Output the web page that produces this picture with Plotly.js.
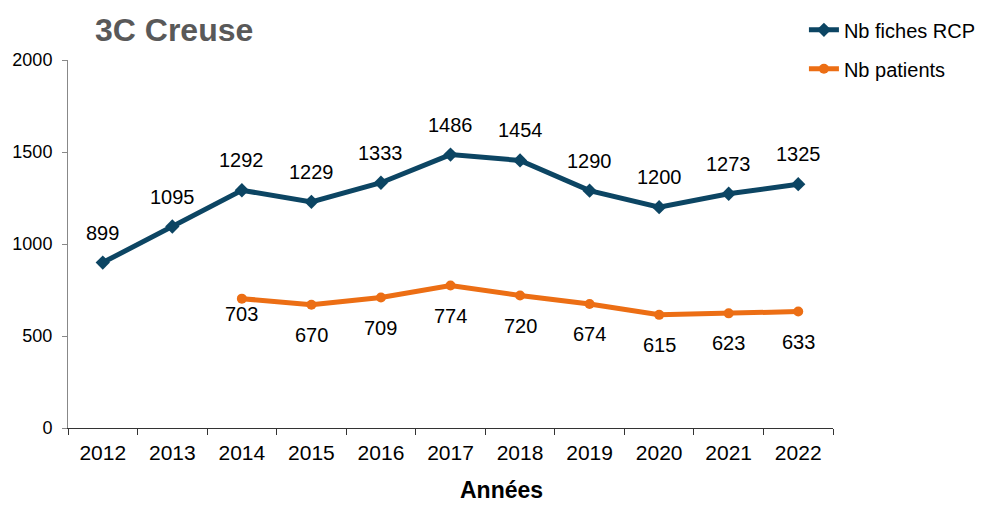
<!DOCTYPE html>
<html>
<head>
<meta charset="utf-8">
<script src="https://cdn.plot.ly/plotly-3.0.1.min.js"></script>
<style>html,body{margin:0;padding:0;background:#fff;}#chart{width:984px;height:505px;}</style>
</head>
<body>
<div id="chart"></div>
<script>
const years = ['2012','2013','2014','2015','2016','2017','2018','2019','2020','2021','2022'];
const fichesRCP = [899, 1095, 1292, 1229, 1333, 1486, 1454, 1290, 1200, 1273, 1325];
const patients = [null, null, 703, 670, 709, 774, 720, 674, 615, 623, 633];
const seriesNames = ['Nb fiches RCP', 'Nb patients'];
const yTicks = [0, 500, 1000, 1500, 2000];
const xTitle = 'Années';

const BLUE = '#0c4563';
const ORANGE = '#ec6e14';
const FONT = 'Liberation Sans, Arial, Helvetica, sans-serif';

const traces = [
  {
    x: years, y: fichesRCP, name: seriesNames[0], type: 'scatter', mode: 'lines+markers',
    line: {color: BLUE, width: 5}, marker: {symbol: 'diamond', size: 11, color: BLUE},
    legendgroup: 'a', hoverinfo: 'x+y'
  },
  {
    x: years, y: patients, name: seriesNames[1], type: 'scatter', mode: 'lines+markers',
    line: {color: ORANGE, width: 5}, marker: {symbol: 'circle', size: 10, color: ORANGE},
    legendgroup: 'b', hoverinfo: 'x+y', connectgaps: false
  }
];

const annotations = [];
years.forEach((yr, i) => {
  if (fichesRCP[i] != null) {
    annotations.push({x: i, y: fichesRCP[i], xref: 'x', yref: 'y', text: String(fichesRCP[i]),
      showarrow: false, yshift: 30, font: {family: FONT, size: 20, color: '#000'}});
  }
  if (patients[i] != null) {
    annotations.push({x: i, y: patients[i], xref: 'x', yref: 'y', text: String(patients[i]),
      showarrow: false, yshift: (i === 2 ? -15 : -30), font: {family: FONT, size: 20, color: '#000'}});
  }
});
// x-axis title (offset to the right as in the original)
annotations.push({
  text: '<b>' + xTitle + '</b>', xref: 'paper', yref: 'paper',
  x: (501 - 68) / 765, xanchor: 'center', y: -(490 - 428) / 368, yanchor: 'middle',
  showarrow: false, borderpad: 0, font: {family: FONT, size: 23, color: '#000'}
});

const layout = {
  width: 984, height: 505,
  paper_bgcolor: '#fff', plot_bgcolor: '#fff',
  margin: {l: 68, r: 151, t: 60, b: 77, pad: 0, autoexpand: false},
  font: {family: FONT, color: '#000'},
  title: {
    text: '<b>3C Creuse</b>', xref: 'container', yref: 'container',
    x: 95/984, xanchor: 'left', y: 1 - 30/505, yanchor: 'middle',
    font: {family: FONT, size: 32, color: '#595959'}
  },
  xaxis: {
    type: 'category', range: [-0.5, 10.5], tickson: 'boundaries',
    ticks: 'outside', ticklen: 6, tickcolor: '#333', tickwidth: 1,
    showline: true, linecolor: '#333', linewidth: 1, showgrid: false, zeroline: false,
    tickfont: {family: FONT, size: 21, color: '#000'}, ticklabelstandoff: 6,
    automargin: false
  },
  yaxis: {
    range: [0, 2000], tickvals: yTicks, ticktext: yTicks.map(String),
    ticks: 'outside', ticklen: 5, tickcolor: '#888', tickwidth: 1,
    showline: true, linecolor: '#888', linewidth: 1, showgrid: false, zeroline: false,
    tickfont: {family: FONT, size: 18, color: '#000'}, ticklabelstandoff: 6, automargin: false
  },
  showlegend: true,
  legend: {
    x: 0.962, xanchor: 'left', y: 1.135, yanchor: 'top',
    font: {family: FONT, size: 20, color: '#000'}, tracegroupgap: 10,
    bgcolor: 'rgba(0,0,0,0)', borderwidth: 0
  },
  annotations: annotations
};

Plotly.newPlot('chart', traces, layout, {displayModeBar: false, staticPlot: true});
</script>
</body>
</html>
